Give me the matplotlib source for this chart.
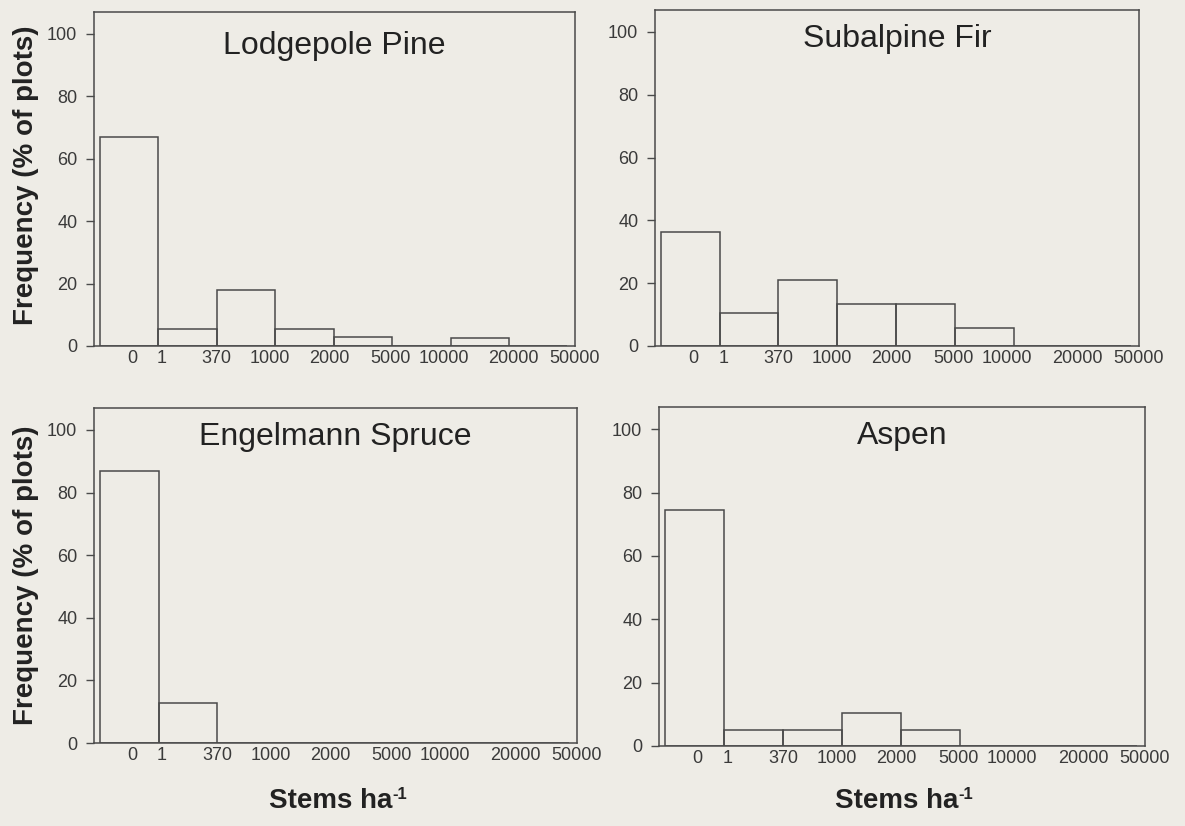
import matplotlib
matplotlib.use("Agg")
import matplotlib.pyplot as plt

# Stem density classes (first class = no stems)
tick_labels = ['0', '1', '370', '1000', '2000', '5000', '10000', '20000', '50000']
tick_pos = [0.55, 1.06, 2.0, 2.91, 3.92, 4.97, 5.88, 7.08, 8.13]

# Frequency (% of plots) per density class
lodgepole = [66.9, 5.3, 18.0, 5.3, 2.8, 0, 2.6, 0]
subalpine = [36.2, 10.6, 21.0, 13.3, 13.3, 5.6, 0, 0]
engelmann = [86.9, 12.8, 0, 0, 0, 0, 0, 0]
aspen = [74.4, 5.2, 5.2, 10.5, 5.2, 0, 0, 0]

species = ['Lodgepole Pine', 'Subalpine Fir', 'Engelmann Spruce', 'Aspen']
values = [lodgepole, subalpine, engelmann, aspen]

bg = '#eeece6'
line = '#4a4a4a'
txt = '#3a3a3a'

plt.rcParams['font.family'] = ['Liberation Sans', 'DejaVu Sans']

W, H = 1185, 826
fig = plt.figure(figsize=(W / 100, H / 100), dpi=100, facecolor=bg)

# axes boxes in pixels: left, right, top, bottom
boxes = [(94, 575, 12, 346), (655, 1139, 10, 346),
         (94, 577, 408, 743), (659, 1145, 407, 746)]
title_y = [0.875, 0.89, 0.89, 0.89]

for i, (name, vals) in enumerate(zip(species, values)):
    l, r, t, b = boxes[i]
    ax = fig.add_axes([l / W, 1 - b / H, (r - l) / W, (b - t) / H])
    ax.set_facecolor(bg)
    ax.bar(range(len(vals)), vals, width=1.0, align='edge',
           facecolor='none', edgecolor=line, linewidth=1.1)
    ax.set_xlim(-0.1, 8.07)
    ax.set_ylim(0, 107)
    ax.set_yticks([0, 20, 40, 60, 80, 100])
    ax.set_xticks(tick_pos)
    ax.set_xticklabels(tick_labels)
    ax.tick_params(axis='x', length=0, pad=3, labelsize=13, labelcolor=txt)
    ax.tick_params(axis='y', length=6, width=1, color=line, pad=6,
                   labelsize=13, labelcolor=txt)
    for s in ax.spines.values():
        s.set_color(line)
        s.set_linewidth(1.1)
    ax.text(0.5, title_y[i], name, transform=ax.transAxes, ha='center',
            va='baseline', fontsize=23, color='#222222')
    if i >= 2:
        st = ax.text(0.49, -(808 - b) / (b - t), 'Stems ha', transform=ax.transAxes,
                     ha='center', va='baseline', fontsize=20, fontweight='bold',
                     color='#222222')
        ax.annotate('-1', xy=(1.0, 1.0), xycoords=st, xytext=(0, 1),
                    textcoords='offset points', ha='left', va='top',
                    fontsize=12, fontweight='bold', color='#222222')

fig.text(25.7 / W, 1 - 175 / H, 'Frequency (% of plots)', rotation=90,
         ha='center', va='center', fontsize=20, fontweight='bold', color='#222222')
fig.text(25.7 / W, 1 - 575 / H, 'Frequency (% of plots)', rotation=90,
         ha='center', va='center', fontsize=20, fontweight='bold', color='#222222')

fig.savefig('out.png', dpi=100, facecolor=bg)
